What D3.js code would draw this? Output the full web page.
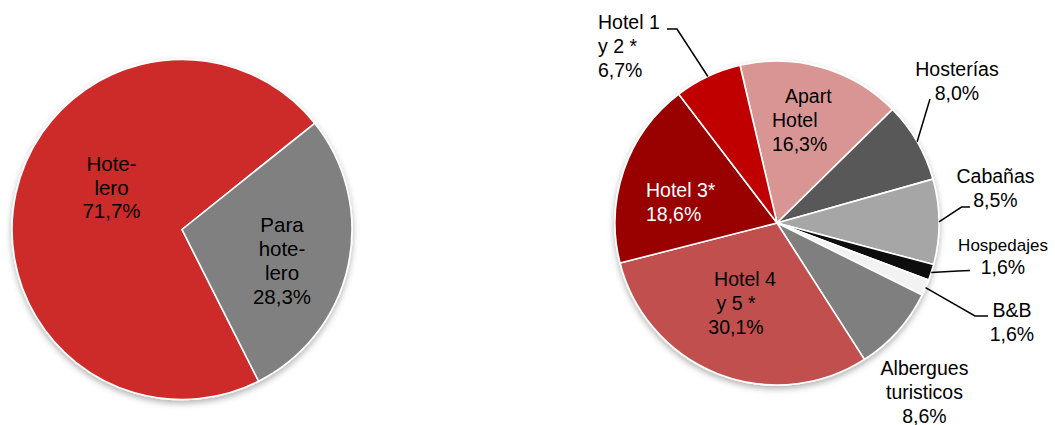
<!DOCTYPE html>
<html>
<head>
<meta charset="utf-8">
<script src="https://cdn.jsdelivr.net/npm/d3@7"></script>
<style>
  html, body { margin: 0; padding: 0; background: #fff; }
  svg { display: block; font-family: "Liberation Sans", Arial, sans-serif; }
</style>
</head>
<body>
<svg id="chart" width="1055" height="425"></svg>
<script>
// ---------- DATA ----------
const leftCategories = ["Hotelero", "Para hotelero"];
const leftValues = [71.7, 28.3];
const leftLabelLines = [["Hote-", "lero", "71,7%"], ["Para", "hote-", "lero", "28,3%"]];

const rightCategories = ["Apart Hotel", "Hosterías", "Cabañas", "Hospedajes", "B&B",
  "Albergues turisticos", "Hotel 4 y 5 *", "Hotel 3*", "Hotel 1 y 2 *"];
const rightValues = [16.3, 8.0, 8.5, 1.6, 1.6, 8.6, 30.1, 18.6, 6.7];
const rightLabelLines = [
  ["Apart", "Hotel", "16,3%"],
  ["Hosterías", "8,0%"],
  ["Cabañas", "8,5%"],
  ["Hospedajes", "1,6%"],
  ["B&B", "1,6%"],
  ["Albergues", "turisticos", "8,6%"],
  ["Hotel 4", "y 5 *", "30,1%"],
  ["Hotel 3*", "18,6%"],
  ["Hotel 1", "y 2 *", "6,7%"]
];

// ---------- STYLE / LAYOUT ----------
const leftColors = ["#CD2C2A", "#808080"];
const rightColors = ["#D99594", "#595959", "#A6A6A6", "#0D0D0D", "#F2F2F2",
  "#7F7F7F", "#C0504D", "#990000", "#C00000"];

const svg = d3.select("#chart");
const defs = svg.append("defs");
const f = defs.append("filter").attr("id", "shadow")
  .attr("x", "-10%").attr("y", "-10%").attr("width", "120%").attr("height", "125%");
f.append("feDropShadow").attr("dx", 0).attr("dy", 3).attr("stdDeviation", 3)
  .attr("flood-color", "#000").attr("flood-opacity", 0.3);

const deg = Math.PI / 180;

function drawPie(cx, cy, r, values, colors, startDeg) {
  const pie = d3.pie().sort(null).value(d => d)
    .startAngle(startDeg * deg).endAngle(startDeg * deg + 2 * Math.PI);
  const arcs = pie(values);
  const arc = d3.arc().innerRadius(0).outerRadius(r);
  const g = svg.append("g").attr("transform", `translate(${cx},${cy})`);
  g.append("g").attr("filter", "url(#shadow)")
    .selectAll("path").data(arcs).join("path")
    .attr("d", arc)
    .attr("fill", (d, i) => colors[i])
    .attr("stroke", "#fff").attr("stroke-width", 1.6).attr("stroke-linejoin", "round");
  return { arcs, g };
}

function drawLabel(x, y, lines, opts) {
  const t = svg.append("text")
    .attr("font-size", opts.size)
    .attr("fill", opts.fill || "#000")
    .attr("text-anchor", opts.anchor || "middle");
  lines.forEach((ln, i) => {
    t.append("tspan")
      .attr("x", x + ((opts.dx && opts.dx[i]) || 0))
      .attr("y", y + i * opts.lh)
      .text(ln);
  });
}

// ---------- LEFT PIE ----------
const L = { cx: 182, cy: 229.5, r: 170 };
drawPie(L.cx, L.cy, L.r, leftValues, leftColors, 153.2);
const leftLabelPos = [
  { x: 111.5, y: 171, lh: 23.5 },
  { x: 282, y: 231.5, lh: 24.2 }
];
leftLabelLines.forEach((lines, i) => {
  drawLabel(leftLabelPos[i].x, leftLabelPos[i].y, lines, { size: "20.5px", lh: leftLabelPos[i].lh });
});

// ---------- RIGHT PIE ----------
const R = { cx: 777, cy: 223, r: 162 };
const right = drawPie(R.cx, R.cy, R.r, rightValues, rightColors, -13.2);

const rightLabelPos = [
  { x: 772, y: 103, anchor: "start", dx: [13, 0, 0] },
  { x: 957, y: 76 },
  { x: 995.5, y: 183 },
  { x: 1003, y: 250.5, sizes: ["17px", "19.5px"] },
  { x: 1012, y: 317 },
  { x: 924.5, y: 375 },
  { x: 740, y: 286, dx: [5, -4, -4] },
  { x: 646, y: 197, anchor: "start", fill: "#fff" },
  { x: 598, y: 29, anchor: "start" }
];
rightLabelLines.forEach((lines, i) => {
  const p = rightLabelPos[i];
  if (p.sizes) {
    lines.forEach((ln, j) => {
      svg.append("text").attr("font-size", p.sizes[j]).attr("text-anchor", "middle")
        .attr("x", p.x).attr("y", p.y + j * 23.5).text(ln);
    });
  } else {
    drawLabel(p.x, p.y, lines, { size: "19.5px", lh: 24, anchor: p.anchor, fill: p.fill, dx: p.dx });
  }
});

// leader lines: label-side points, ending on slice edge at mid angle
const leaders = [
  { i: 8, pts: [[667, 29], [677, 29]] },
  { i: 1, pts: [[930, 99]] },
  { i: 2, pts: [[970, 207], [961.5, 207]] },
  { i: 3, pts: [[970, 270.5], [958, 271]] },
  { i: 4, pts: [[988, 316], [975, 316]] }
];
leaders.forEach(l => {
  const a = right.arcs[l.i];
  const mid = (a.startAngle + a.endAngle) / 2;
  const ex = R.cx + R.r * Math.sin(mid);
  const ey = R.cy - R.r * Math.cos(mid);
  const pts = l.pts.concat([[ex, ey]]);
  svg.append("path")
    .attr("d", d3.line()(pts))
    .attr("fill", "none").attr("stroke", "#000").attr("stroke-width", 1.5);
});
</script>
</body>
</html>
